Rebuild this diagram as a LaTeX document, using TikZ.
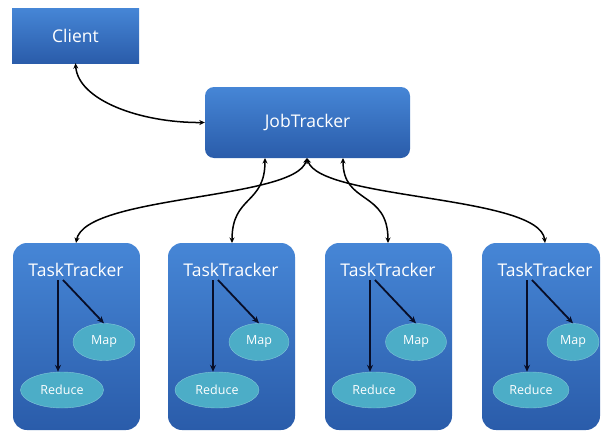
\documentclass[tikz,border=0pt]{standalone}
\usepackage{fontspec}
\setmainfont{Open Sans}
\usetikzlibrary{arrows.meta,shapes.geometric}
\definecolor{boxtop}{RGB}{70,134,214}
\definecolor{boxbot}{RGB}{42,92,170}
\definecolor{ellfill}{RGB}{76,173,199}
\definecolor{inarrow}{RGB}{8,14,40}
\begin{document}
\begin{tikzpicture}[x=1pt,y=-1pt,
  bluebox/.style={top color=boxtop,bottom color=boxbot,draw=none,text=white,inner sep=0pt},
  ttbox/.style={bluebox,rounded corners=14pt,minimum height=187pt},
  worker/.style={ellipse,fill=ellfill,draw=ellfill!70!white,line width=0.4pt,text=white,inner sep=0pt,font=\fontsize{12.5}{14}\selectfont},
  bigtxt/.style={text=white,font=\fontsize{17.5}{20}\selectfont},
  conn/.style={line width=1.5pt,black,{Stealth[length=5.5pt,width=5pt]}-{Stealth[length=5.5pt,width=5pt]}},
  inner/.style={line width=1.8pt,inarrow,-{Stealth[length=7pt,width=6pt]}}
]
\useasboundingbox (0,0) rectangle (602,431);

\node[bluebox,minimum width=127pt,minimum height=55pt,font=\fontsize{17.5}{20}\selectfont] (client) at (75.5,35.5) {Client};
\node[bluebox,rounded corners=9pt,minimum width=205pt,minimum height=71pt,font=\fontsize{17.5}{20}\selectfont] (jt) at (307.5,122.5) {JobTracker};

% TaskTrackers: index/left/width/mapwidth/reducewidth
\foreach \i/\l/\w/\mw/\rw in {1/13/127/62/83, 2/168/127/60/84, 3/325/127/61/84, 4/482/118/52/76}{
  \node[ttbox,minimum width=\w pt] (tt\i) at (\l+\w/2,336.5) {};
  \node[bigtxt] (ttl\i) at (\l+63,270) {TaskTracker};
  \node[worker,minimum width=\mw pt,minimum height=37pt] (map\i) at (\l+91,342) {Map};
  \node[worker,minimum width=\rw pt,minimum height=36pt] (red\i) at (\l+49,390) {Reduce};
  \coordinate (s\i) at (\l+45,280);
  \coordinate (d\i) at (\l+50,280);
  \draw[inner] (s\i) -- (s\i |- red\i.north);
  \draw[inner] (d\i) -- (map\i.north);
}

\coordinate (jtl) at (265,158);
\coordinate (jtm) at (307,158);
\coordinate (jtr) at (343,158);
\coordinate (t1) at (76,243);
\coordinate (t2) at (232,243);
\coordinate (t3) at (388,243);
\coordinate (t4) at (545,243);

\draw[conn] (client.south) .. controls (78,100) and (140,123) .. (jt.west);
\draw[conn] (jtm) .. controls (295,200) and (85,195) .. (t1);
\draw[conn] (jtl) .. controls (265,205) and (232,195) .. (t2);
\draw[conn] (jtr) .. controls (343,205) and (388,190) .. (t3);
\draw[conn] (jtm) .. controls (320,200) and (540,195) .. (t4);
\end{tikzpicture}
\end{document}
